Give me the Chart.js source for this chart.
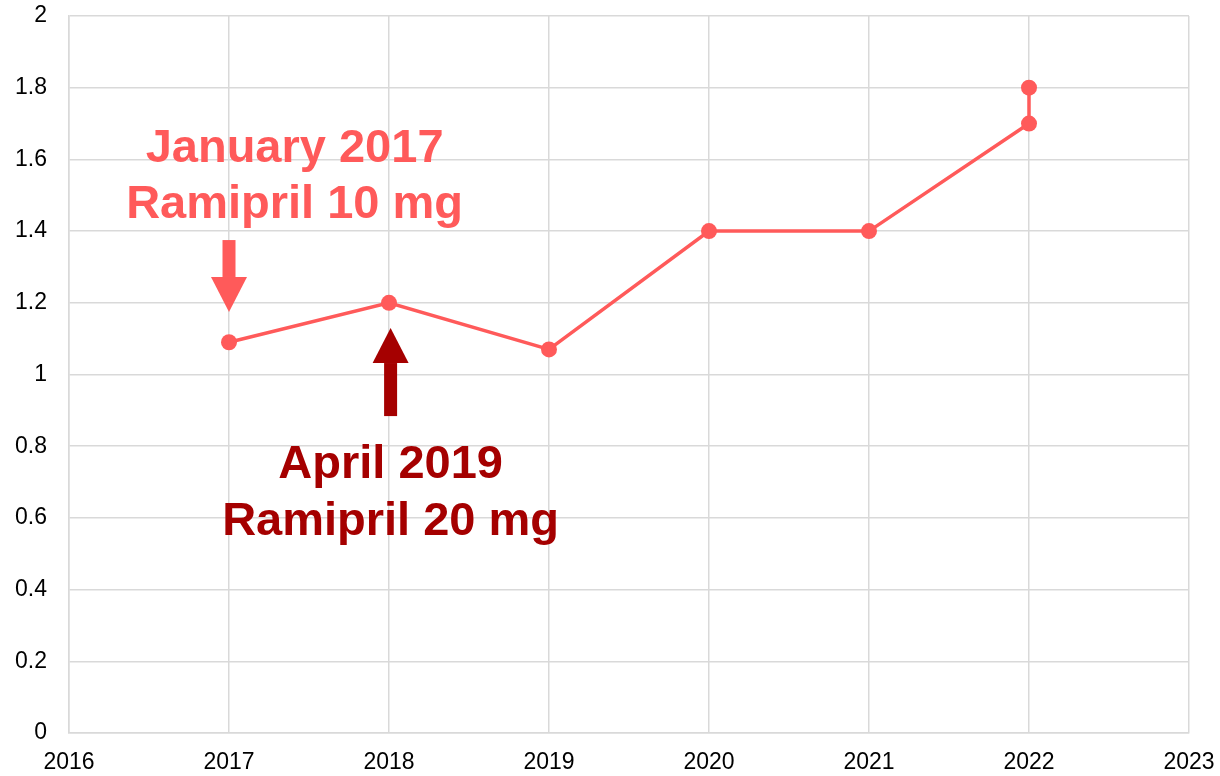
<!DOCTYPE html>
<html>
<head>
<meta charset="utf-8">
<script src="https://cdn.jsdelivr.net/npm/chart.js"></script>
<style>
  html, body { margin: 0; padding: 0; background: #fff; }
  #wrap { width: 1220px; height: 776px; }
</style>
</head>
<body>
<div id="wrap"><canvas id="trend"></canvas></div>
<script>
// data
var years = [2017, 2018, 2019, 2020, 2021, 2022, 2022];
var values = [1.09, 1.2, 1.07, 1.4, 1.4, 1.7, 1.8];
var xTicks = [2016, 2017, 2018, 2019, 2020, 2021, 2022, 2023];
var yTicks = [0, 0.2, 0.4, 0.6, 0.8, 1, 1.2, 1.4, 1.6, 1.8, 2];

// notes: text lines, where the text sits and where the arrow points (data units)
var noteLines = [["January 2017", "Ramipril 10 mg"], ["April 2019", "Ramipril 20 mg"]];
var noteColors = ["#ff5a5a", "#a50000"];
var noteTextX = [2017.41, 2018.01];
var noteTextY = [[1.593, 1.437], [0.711, 0.552]];
var arrowX = [2017, 2018.01];
var arrowTail = [1.375, 0.884];
var arrowHeadBase = [1.272, 1.032];
var arrowTip = [1.174, 1.130];

var lineColor = "#ff5a5a";
var gridColor = "#d9d9d9";
var tickFont = { family: "'Liberation Sans', Arial, sans-serif", size: 23 };

var notesPlugin = {
  id: 'notes',
  afterDatasetsDraw: function(chart) {
    var ctx = chart.ctx;
    var xs = chart.scales.x, ys = chart.scales.y;
    ctx.save();
    for (var i = 0; i < noteLines.length; i++) {
      ctx.fillStyle = noteColors[i];
      ctx.font = "bold 47px 'Liberation Sans', Arial, sans-serif";
      ctx.textAlign = 'center';
      ctx.textBaseline = 'alphabetic';
      for (var j = 0; j < noteLines[i].length; j++) {
        ctx.fillText(noteLines[i][j], xs.getPixelForValue(noteTextX[i]), ys.getPixelForValue(noteTextY[i][j]));
      }
      var ax = xs.getPixelForValue(arrowX[i]);
      var tail = ys.getPixelForValue(arrowTail[i]);
      var base = ys.getPixelForValue(arrowHeadBase[i]);
      var tip = ys.getPixelForValue(arrowTip[i]);
      ctx.fillRect(ax - 6.5, Math.min(tail, base), 13, Math.abs(base - tail));
      ctx.beginPath();
      ctx.moveTo(ax - 18, base);
      ctx.lineTo(ax + 18, base);
      ctx.lineTo(ax, tip);
      ctx.closePath();
      ctx.fill();
    }
    ctx.restore();
  }
};

var points = years.map(function(y, i) { return { x: y, y: values[i] }; });

new Chart(document.getElementById('trend').getContext('2d'), {
  type: 'line',
  data: {
    datasets: [{
      data: points,
      borderColor: lineColor,
      backgroundColor: lineColor,
      borderWidth: 3.5,
      pointRadius: 8,
      pointHoverRadius: 8,
      pointBorderWidth: 0,
      tension: 0
    }]
  },
  options: {
    responsive: true,
    maintainAspectRatio: false,
    animation: false,
    layout: { padding: { top: 16, right: 31, left: 0, bottom: 0 } },
    plugins: { legend: { display: false }, tooltip: { enabled: false } },
    scales: {
      x: {
        type: 'linear',
        min: xTicks[0],
        max: xTicks[xTicks.length - 1],
        afterBuildTicks: function(s) { s.ticks = xTicks.map(function(v) { return { value: v }; }); },
        afterFit: function(s) { s.height = 43; s.paddingLeft = 0; s.paddingRight = 0; },
        grid: { color: gridColor, lineWidth: 1.5, drawTicks: false },
        border: { color: gridColor, width: 1.5 },
        ticks: {
          padding: 16,
          color: '#000',
          font: tickFont,
          callback: function(v) { return String(v); },
          maxRotation: 0
        }
      },
      y: {
        min: yTicks[0],
        max: yTicks[yTicks.length - 1],
        afterBuildTicks: function(s) { s.ticks = yTicks.map(function(v) { return { value: v }; }); },
        afterFit: function(s) { s.width = 69; s.paddingTop = 0; s.paddingBottom = 0; },
        grid: { color: gridColor, lineWidth: 1.5, drawTicks: false },
        border: { color: gridColor, width: 1.5 },
        ticks: {
          padding: 22,
          color: '#000',
          font: tickFont,
          callback: function(v) { return String(Math.round(v * 10) / 10); }
        }
      }
    }
  },
  plugins: [notesPlugin]
});
</script>
</body>
</html>
